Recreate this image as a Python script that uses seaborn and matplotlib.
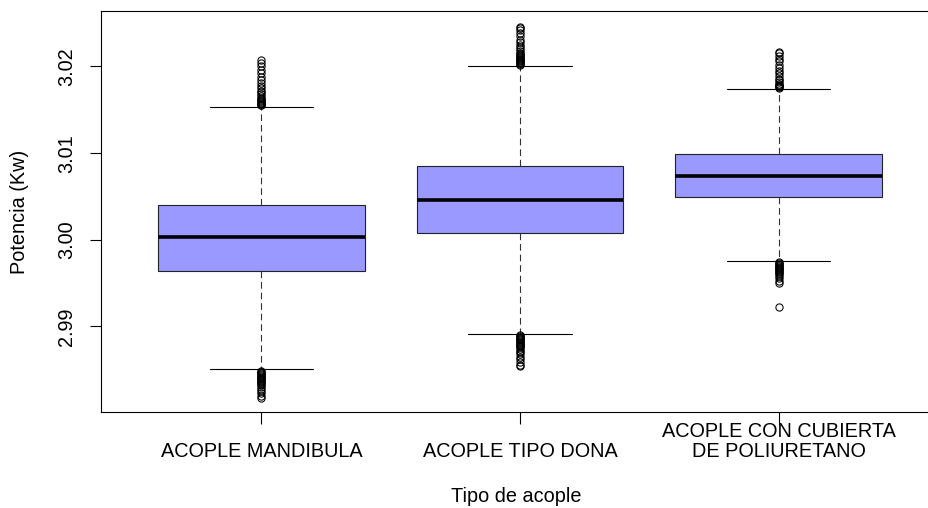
import matplotlib
matplotlib.use("Agg")
import matplotlib.pyplot as plt
import numpy as np
import pandas as pd
import seaborn as sns

# ---- data ----
categories = ["ACOPLE MANDIBULA", "ACOPLE TIPO DONA", "ACOPLE CON CUBIERTA\nDE POLIURETANO"]
q1 = [2.99643, 3.00073, 3.00495]
median = [3.00027, 3.00461, 3.00734]
q3 = [3.00403, 3.00849, 3.00994]
whisker_low = [2.9851, 2.98912, 2.9975]
whisker_high = [3.01532, 3.0201, 3.01732]
outliers_low = [
    [2.9849, 2.9848, 2.9847, 2.9846, 2.9845, 2.9844, 2.9843, 2.9842, 2.9841, 2.9840, 2.9839,
     2.9838, 2.9837, 2.9836, 2.9835, 2.9834, 2.9832, 2.9830, 2.9828, 2.9826, 2.9823, 2.9820, 2.9818],
    [2.9890, 2.9889, 2.9888, 2.9887, 2.9886, 2.9885, 2.9884, 2.9883, 2.9882, 2.9881, 2.9880,
     2.9879, 2.9878, 2.9877, 2.9876, 2.9874, 2.9872, 2.9870, 2.9868, 2.9865, 2.9862, 2.9859,
     2.9856, 2.9854],
    [2.9974, 2.9973, 2.9972, 2.9971, 2.9970, 2.9969, 2.9968, 2.9967, 2.9966, 2.9965, 2.9964,
     2.9963, 2.9962, 2.9960, 2.9958, 2.9956, 2.9953, 2.9950, 2.9922],
]
outliers_high = [
    [3.0155, 3.0156, 3.0157, 3.0158, 3.0159, 3.0160, 3.0161, 3.0162, 3.0164, 3.0166, 3.0168,
     3.0170, 3.0172, 3.0175, 3.0178, 3.0181, 3.0184, 3.0188, 3.0192, 3.0196, 3.0200, 3.0204, 3.0207],
    [3.0202, 3.0203, 3.0204, 3.0205, 3.0206, 3.0207, 3.0208, 3.0209, 3.0210, 3.0211, 3.0212,
     3.0213, 3.0214, 3.0216, 3.0218, 3.0220, 3.0222, 3.0225, 3.0228, 3.0231, 3.0235, 3.0239,
     3.0242, 3.0244, 3.0246],
    [3.0174, 3.0175, 3.0176, 3.0177, 3.0178, 3.0179, 3.0180, 3.0182, 3.0184, 3.0186, 3.0189,
     3.0192, 3.0195, 3.0198, 3.0202, 3.0206, 3.0209, 3.0212, 3.0215, 3.0217],
]
y_ticks = [2.99, 3.00, 3.01, 3.02]
y_tick_labels = ["2.99", "3.00", "3.01", "3.02"]

# Build a table whose quartiles / whisker ends reproduce the summary values above
rows = []
for i, cat in enumerate(categories):
    vals = (outliers_low[i] + [whisker_low[i]] + [q1[i]] * 100 + [median[i]] * 100
            + [q3[i]] * 100 + [whisker_high[i]] + outliers_high[i])
    rows += [(cat, v) for v in vals]
df = pd.DataFrame(rows, columns=["Tipo de acople", "Potencia (Kw)"])

# ---- style ----
sns.set_style("ticks")
plt.rcParams["font.family"] = ["Liberation Sans", "DejaVu Sans"]
plt.rcParams["font.size"] = 14.3
plt.rcParams["text.color"] = "black"
plt.rcParams["axes.labelcolor"] = "black"
plt.rcParams["xtick.color"] = "black"
plt.rcParams["ytick.color"] = "black"

W, H = 929, 508
fig = plt.figure(figsize=(W / 100, H / 100), dpi=100)
ax_left, ax_right, ax_top, ax_bottom = 101, 939, 11, 412.3
ax = fig.add_axes([ax_left / W, 1 - ax_bottom / H, (ax_right - ax_left) / W, (ax_bottom - ax_top) / H])

sns.boxplot(
    data=df, x="Tipo de acople", y="Potencia (Kw)", order=categories, ax=ax,
    color="#9999FF", saturation=1, width=0.8, whis=1.5,
    linecolor="black", linewidth=0.8,
    medianprops=dict(color="black", linewidth=2.6),
    whiskerprops=dict(color="#333333", linewidth=0.8, linestyle=(0, (6, 3.5))),
    capprops=dict(color="black", linewidth=0.8),
    boxprops=dict(edgecolor="#222222", linewidth=0.8),
    flierprops=dict(marker="o", markerfacecolor="none", markeredgecolor="black",
                    markersize=5.2, markeredgewidth=0.75),
)

ax.set_xlim(-0.62, 2.62)
ax.set_ylim(2.9801, 3.0264)

for s in ax.spines.values():
    s.set_visible(True)
    s.set_color("black")
    s.set_linewidth(0.8)

ax.set_yticks(y_ticks, labels=y_tick_labels, rotation=90, va="center")
ax.tick_params(axis="y", length=8, width=0.8, pad=10)
ax.set_xticks(range(len(categories)), labels=categories, va="bottom", linespacing=1.1)
ax.tick_params(axis="x", length=8.6, width=0.8, pad=26.5)

ax.set_xlabel("Tipo de acople", va="baseline")
ax.xaxis.set_label_coords((516.5 - ax_left) / (ax_right - ax_left),
                          -(501.7 - ax_bottom) / (ax_bottom - ax_top))
ax.set_ylabel("Potencia (Kw)", va="baseline")
ax.yaxis.set_label_coords((25 - ax_left) / (ax_right - ax_left), 0.5)

fig.savefig("out.png", dpi=100)
